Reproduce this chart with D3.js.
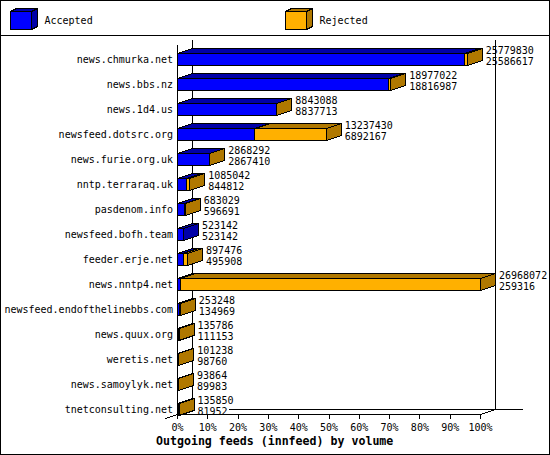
<!DOCTYPE html>
<html>
<head>
<meta charset="utf-8">
<script src="https://cdn.jsdelivr.net/npm/d3@7"></script>
<style>
body { margin: 0; background: #fff; }
#chart { width: 550px; height: 455px; }
text { font-family: "DejaVu Sans Mono", monospace; font-size: 10px; fill: #000; }
</style>
</head>
<body>
<div id="chart"></div>
<script>
// innfeed outgoing volume per peer: offered (top number) and accepted (bottom number)
var hosts = ["news.chmurka.net", "news.bbs.nz", "news.1d4.us", "newsfeed.dotsrc.org",
             "news.furie.org.uk", "nntp.terraraq.uk", "pasdenom.info", "newsfeed.bofh.team",
             "feeder.erje.net", "news.nntp4.net", "newsfeed.endofthelinebbs.com", "news.quux.org",
             "weretis.net", "news.samoylyk.net", "tnetconsulting.net"];
var offered = [25779830, 18977022, 8843088, 13237430, 2868292, 1085042, 683029, 523142,
               897476, 26968072, 253248, 135786, 101238, 93864, 135850];
var accepted = [25586617, 18816987, 8837713, 6892167, 2867410, 844812, 596691, 523142,
                495908, 259316, 134969, 111153, 98760, 89983, 81952];
var seriesNames = ["Accepted", "Rejected"];
var tickValues = [0, 0.1, 0.2, 0.3, 0.4, 0.5, 0.6, 0.7, 0.8, 0.9, 1];
var title = "Outgoing feeds (innfeed) by volume";

var fills = ["#0000ff", "#ffb000"];
var shades = ["#0000a8", "#b07800"];

// front face + top face + end face, outlined in black
function box(g, x0, x1, y0, bh, ddx, ddy, fill, shade) {
    g.append("polygon")
        .attr("points", [[x0, y0], [x0 + ddx, y0 - ddy], [x1 + ddx, y0 - ddy], [x1, y0]].join(" "))
        .attr("fill", shade);
    g.append("polygon")
        .attr("points", [[x1, y0], [x1 + ddx, y0 - ddy], [x1 + ddx, y0 - ddy + bh], [x1, y0 + bh]].join(" "))
        .attr("fill", shade);
    g.append("rect")
        .attr("x", x0).attr("y", y0)
        .attr("width", x1 - x0).attr("height", bh)
        .attr("fill", fill);
}

function init() {
    var container = d3.select("#chart");
    var w = parseInt(container.style("width"));
    var h = parseInt(container.style("height"));

    var svg = container.append("svg")
                .attr("width", w)
                .attr("height", h)
                .attr("shape-rendering", "crispEdges");

    var dx = 15, dy = 5;   // depth of the 3d effect
    var left = 177.5, right = 480.5, top = 40, floor = 414.5;

    var x = d3.scaleLinear()
                .domain([0, d3.max(offered)])
                .range([left, right]);
    var pct = d3.scaleLinear()
                .domain([0, 1])
                .range([left - 0.5, right - 0.5]);
    var y = d3.scaleBand()
                .domain(hosts)
                .range([top, top + 25 * hosts.length]);

    // frame
    svg.append("rect")
        .attr("x", 0.5).attr("y", 0.5)
        .attr("width", w - 1).attr("height", h - 1)
        .attr("fill", "none").attr("stroke", "#000");
    svg.append("line")
        .attr("x1", 0).attr("x2", w).attr("y1", 35.5).attr("y2", 35.5)
        .attr("stroke", "#000");

    // legend
    var legX = [10.5, 285.5];
    seriesNames.forEach(function(name, i) {
        var lg = svg.append("g").attr("stroke", "#000");
        box(lg, legX[i], legX[i] + 21, 11.5, 18, 6, 3, fills[i], shades[i]);
        svg.append("text")
            .attr("x", legX[i] + 34)
            .attr("y", 24)
            .text(name);
    });

    // back walls and floor
    var walls = svg.append("g").attr("stroke", "#000").attr("fill", "none");
    walls.append("line")
        .attr("x1", left + dx).attr("x2", left + dx)
        .attr("y1", top).attr("y2", floor - dy);
    walls.append("line")
        .attr("x1", right + dx).attr("x2", right + dx)
        .attr("y1", top).attr("y2", floor - dy);
    walls.append("line")
        .attr("x1", left + dx).attr("y1", floor - dy)
        .attr("x2", left - 12).attr("y2", floor + 4);
    walls.append("line")
        .attr("x1", right).attr("y1", floor)
        .attr("x2", right + dx).attr("y2", floor - dy);
    walls.append("line")
        .attr("x1", left).attr("x2", left)
        .attr("y1", top + dy).attr("y2", floor);

    // bars: accepted part first, rejected part stacked after it
    var bars = svg.append("g").attr("stroke", "#000");
    hosts.forEach(function(d, i) {
        var y0 = y(d) + 13.5;
        box(bars, x(0), x(accepted[i]), y0, 12, dx, dy, fills[0], shades[0]);
        if (offered[i] > accepted[i]) {
            box(bars, x(accepted[i]), x(offered[i]), y0, 12, dx, dy, fills[1], shades[1]);
        }
    });

    // host names
    svg.append("g").selectAll("text")
        .data(hosts)
        .enter()
        .append("text")
        .attr("x", 173)
        .attr("y", function(d) { return y(d) + 22.5; })
        .attr("text-anchor", "end")
        .text(function(d) { return d; });

    // values
    var vals = svg.append("g");
    var lastRight = 0;
    hosts.forEach(function(d, i) {
        var tx = x(offered[i]) + 18.5;
        vals.append("text").attr("x", tx).attr("y", y(d) + 13.5).text(offered[i]);
        var t = vals.append("text").attr("x", tx).attr("y", y(d) + 25).text(accepted[i]);
        if (i === hosts.length - 1) lastRight = tx + t.node().getComputedTextLength();
    });

    // back floor line (stops at the last label)
    svg.append("line")
        .attr("x1", lastRight + 1).attr("x2", right + dx + 27)
        .attr("y1", floor - dy).attr("y2", floor - dy)
        .attr("stroke", "#000");

    // percent axis
    var axis = svg.append("g")
        .attr("transform", "translate(0," + (floor - 0.5) + ")")
        .call(d3.axisBottom(pct)
                .tickValues(tickValues)
                .tickFormat(d3.format(".0%"))
                .tickSize(5)
                .tickSizeOuter(0)
                .tickPadding(5));
    axis.selectAll("text")
        .attr("font-family", "DejaVu Sans Mono")
        .attr("font-size", 10);
    axis.attr("font-family", null).attr("font-size", null);

    svg.append("text")
        .attr("x", 156)
        .attr("y", 445)
        .attr("font-weight", "bold")
        .style("font-size", "11.6px")
        .text(title);
}

window.onload = init;
</script>
</body>
</html>
